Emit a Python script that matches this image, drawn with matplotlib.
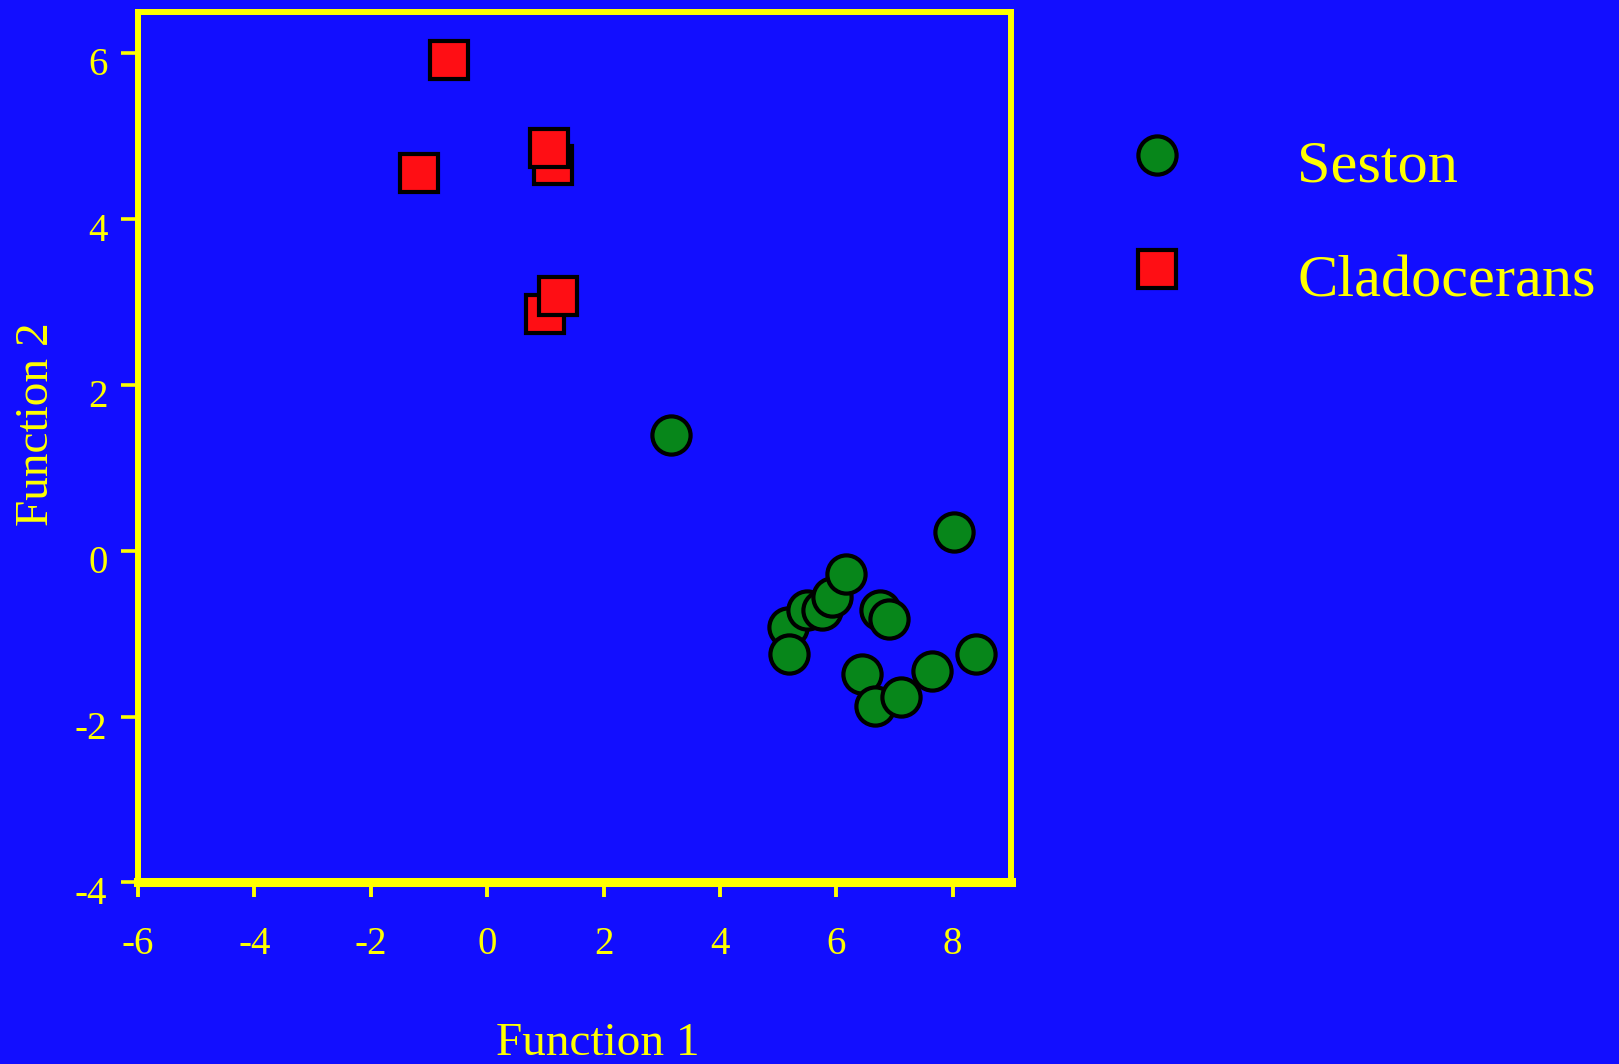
import matplotlib
matplotlib.use("Agg")
import matplotlib.pyplot as plt
import matplotlib.transforms as mtransforms
from matplotlib.lines import Line2D

# discriminant function scores
seston_f1 = [3.16, 5.17, 5.49, 5.76, 5.93, 6.16, 5.19, 6.75, 6.90, 8.02,
             6.44, 6.67, 7.12, 7.65, 8.40]
seston_f2 = [1.39, -0.92, -0.71, -0.71, -0.56, -0.28, -1.24, -0.71, -0.82, 0.23,
             -1.49, -1.87, -1.76, -1.45, -1.24]
clad_f1 = [-0.65, -1.17, 1.14, 1.07, 1.00, 1.22]
clad_f2 = [5.92, 4.55, 4.65, 4.86, 2.86, 3.07]

xticks = [-6, -4, -2, 0, 2, 4, 6, 8]
yticks = [-4, -2, 0, 2, 4, 6]

bg = '#120EFF'
fg = '#FFFF00'
green = '#07861A'
red = '#FF0E14'

plt.rcParams['font.family'] = ['Liberation Serif', 'DejaVu Serif']
plt.rcParams['axes.unicode_minus'] = False

fig = plt.figure(figsize=(16.19, 10.64), dpi=100, facecolor=bg)
ax = fig.add_axes([0.0852, 0.1706, 0.5392, 0.8185])
ax.set_facecolor(bg)

ms = 27.5
ax.plot(seston_f1, seston_f2, linestyle='none', marker='o', ms=ms,
        mfc=green, mec='black', mew=3)
ax.plot(clad_f1, clad_f2, linestyle='none', marker='s', ms=ms,
        mfc=red, mec='black', mew=3)

ax.set_xlim(-6, 9)
ax.set_ylim(-4, 6.5)
ax.set_xticks(xticks)
ax.set_yticks(yticks)
ax.set_xticklabels([str(t) for t in xticks])
ax.set_yticklabels([str(t) for t in yticks])

for side, sp in ax.spines.items():
    sp.set_color(fg)
    sp.set_linewidth(6.5 if side == 'bottom' else 4.3)

ax.tick_params(axis='x', colors=fg, labelsize=28, length=11, width=2.8,
               direction='out', pad=20)
ax.tick_params(axis='y', colors=fg, labelsize=28, length=12, width=2.6,
               direction='out', pad=10)

# y tick labels sit a little below their ticks
shift = mtransforms.ScaledTranslation(0, -0.08, fig.dpi_scale_trans)
for lbl in ax.get_yticklabels():
    lbl.set_transform(lbl.get_transform() + shift)

fig.text(598 / 1619, 1 - 1055 / 1064, 'Function 1', color=fg, fontsize=34,
         ha='center', va='baseline')
fig.text(48 / 1619, 1 - 424 / 1064, 'Function 2', color=fg, fontsize=34,
         rotation=90, rotation_mode='anchor', ha='center', va='baseline')

handles = [
    Line2D([], [], linestyle='none', marker='o', ms=ms, mfc=green, mec='black', mew=3),
    Line2D([], [], linestyle='none', marker='s', ms=ms, mfc=red, mec='black', mew=3),
]
fig.legend(handles, ['Seston', 'Cladocerans'], loc='upper left',
           bbox_to_anchor=(0.6776, 0.880), frameon=False, fontsize=43.5,
           labelcolor=fg, handlelength=2, handleheight=1.36,
           handletextpad=1.31, labelspacing=0.76,
           borderpad=0, borderaxespad=0)

fig.savefig('out.png', dpi=100, facecolor=bg)
